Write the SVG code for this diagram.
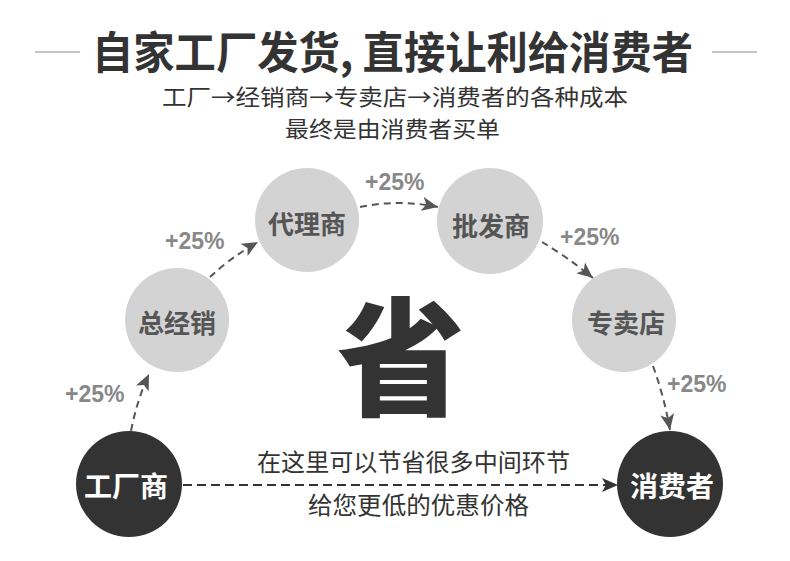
<svg xmlns="http://www.w3.org/2000/svg" width="790" height="561" viewBox="0 0 790 561">
<defs>
<style>
.cjk{font-family:"Noto Sans CJK SC","Noto Sans",sans-serif}
.title{font-size:44px;font-weight:700;fill:#333}
.sub{font-size:22px;font-weight:400;fill:#333}
.light circle{fill:#d3d3d3}
.light text{font-family:"Noto Sans CJK SC",sans-serif;font-size:26px;font-weight:700;fill:#555}
.dark circle{fill:#333}
.dark text{font-family:"Noto Sans CJK SC",sans-serif;font-size:28px;font-weight:700;fill:#fff}
.pct{font-family:"Liberation Sans",Arial,sans-serif;font-size:23px;font-weight:700;fill:#888}
.conn{fill:none;stroke:#555;stroke-width:2;stroke-dasharray:7 5;marker-end:url(#ah)}
.main{fill:none;stroke:#333;stroke-width:2;stroke-dasharray:9 5;marker-end:url(#ahd)}
.mid{font-size:24px;font-weight:400;fill:#333}
</style>
<marker id="ah" markerUnits="userSpaceOnUse" markerWidth="18" markerHeight="16" refX="16" refY="7" orient="auto">
<path d="M0,0 L16,7 L0,14 L4,7 Z" fill="#555"/>
</marker>
<marker id="ahd" markerUnits="userSpaceOnUse" markerWidth="18" markerHeight="16" refX="16" refY="7" orient="auto">
<path d="M0,0 L16,7 L0,14 L4,7 Z" fill="#333"/>
</marker>
</defs>
<rect width="790" height="561" fill="#fff"/>

<g id="header">
<line x1="35" y1="52" x2="80" y2="52" stroke="#888" stroke-width="1"/>
<line x1="712" y1="52" x2="757" y2="52" stroke="#888" stroke-width="1"/>
<text class="cjk title" x="92" y="69" textLength="601" lengthAdjust="spacingAndGlyphs">自家工厂发货, 直接让利给消费者</text>
<text class="cjk sub" x="162" y="105" textLength="466" lengthAdjust="spacingAndGlyphs">工厂→经销商→专卖店→消费者的各种成本</text>
<text class="cjk sub" x="285" y="137" textLength="215" lengthAdjust="spacingAndGlyphs">最终是由消费者买单</text>
</g>

<g id="sheng">
<text class="cjk" x="401" y="406" text-anchor="middle" font-size="128" font-weight="900" fill="#333">省</text>
</g>

<g id="connectors">
<path class="conn" d="M131,431 Q137,400 149,374"/>
<path class="conn" d="M210,277 Q230,258 258,242"/>
<path class="conn" d="M360,207 Q399,199 438,207"/>
<path class="conn" d="M542,242 Q566,256 593,278"/>
<path class="conn" d="M653,366 Q664,396 670,430"/>
<path class="main" d="M183,485 L618,485"/>
</g>

<g id="labels">
<text class="pct" x="65" y="402">+25%</text>
<text class="pct" x="165" y="249">+25%</text>
<text class="pct" x="365" y="190">+25%</text>
<text class="pct" x="560" y="245">+25%</text>
<text class="pct" x="667" y="392">+25%</text>
<text class="cjk mid" x="257" y="471" textLength="313" lengthAdjust="spacingAndGlyphs">在这里可以节省很多中间环节</text>
<text class="cjk mid" x="308" y="514" textLength="221" lengthAdjust="spacingAndGlyphs">给您更低的优惠价格</text>
</g>

<g id="node-factory" class="dark">
<circle cx="129" cy="484" r="53"/>
<text x="126" y="485" text-anchor="middle" dominant-baseline="central">工厂商</text>
</g>
<g id="node-general" class="light">
<circle cx="177" cy="320" r="52"/>
<text x="177" y="321" text-anchor="middle" dominant-baseline="central">总经销</text>
</g>
<g id="node-agent" class="light">
<circle cx="307" cy="220" r="52"/>
<text x="307" y="222" text-anchor="middle" dominant-baseline="central">代理商</text>
</g>
<g id="node-wholesale" class="light">
<circle cx="490" cy="221" r="53"/>
<text x="491" y="224" text-anchor="middle" dominant-baseline="central">批发商</text>
</g>
<g id="node-store" class="light">
<circle cx="624" cy="320" r="52"/>
<text x="626" y="321" text-anchor="middle" dominant-baseline="central">专卖店</text>
</g>
<g id="node-consumer" class="dark">
<circle cx="670" cy="484" r="53"/>
<text x="672" y="485" text-anchor="middle" dominant-baseline="central">消费者</text>
</g>
</svg>
